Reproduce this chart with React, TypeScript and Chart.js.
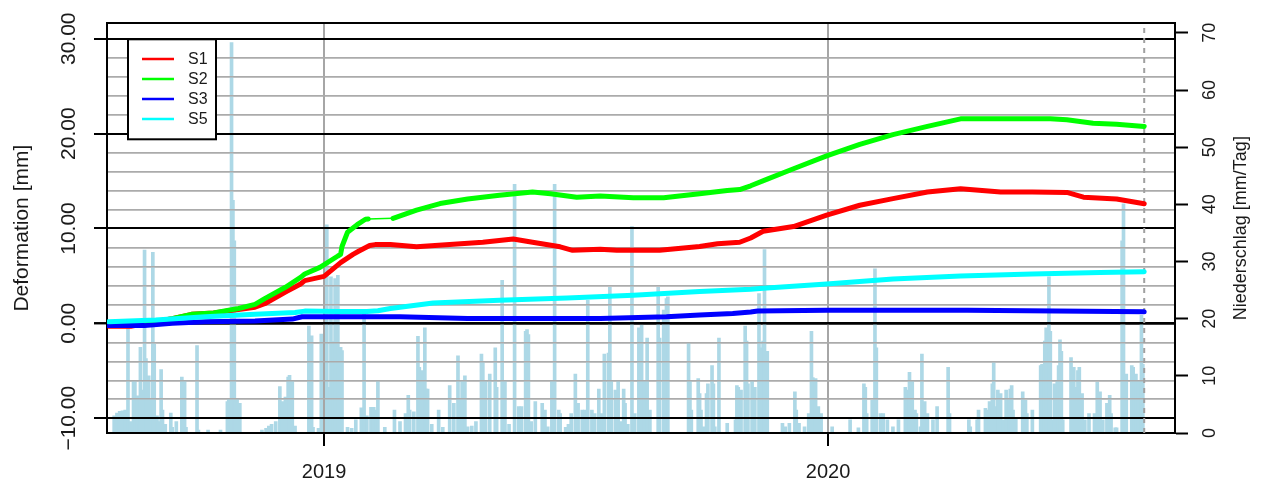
import { useEffect, useRef } from 'react';
import { Chart, registerables } from 'chart.js';

Chart.register(...registerables);

// ---- x axis: days relative to 2019-01-01 ----
const X_MIN = -157.2;
const X_MAX = 616.3;
const YEAR_TICK_DAYS = [0, 365];
const YEAR_TICK_LABELS = ['2019', '2020'];
const END_DAY = 594;

// ---- left axis: deformation [mm] ----
const DEF_MIN = -11.56;
const DEF_MAX = 31.63;
const DEF_GRID_TICKS = [-10, -8, -6, -4, -2, 0, 2, 4, 6, 8, 10, 12, 14, 16, 18, 20, 22, 24, 26, 28, 30];
const DEF_MAJOR_TICKS = [-10, 0, 10, 20, 30];
const DEF_MAJOR_LABELS = ['\u221210.00', '0.00', '10.00', '20.00', '30.00'];

// ---- right axis: precipitation [mm/Tag] ----
const RAIN_MIN = 0;
const RAIN_MAX = 71.67;
const RAIN_TICKS = [0, 10, 20, 30, 40, 50, 60, 70];

// ---- series ----
const S1_DAYS = [-156, -140, -122, -110, -96, -80, -62, -50, -43, -28, -17, -14, 0, 12, 21, 25, 33, 37, 48, 67, 91, 115, 137, 151, 171, 180, 200, 212, 243, 272, 285, 301, 309, 318, 340, 364, 388, 412, 437, 461, 490, 513, 538, 550, 574, 594];
const S1_VALUES = [-0.3, -0.3, 0.2, 0.5, 0.95, 1.1, 1.45, 1.7, 2.07, 3.3, 4.15, 4.5, 4.95, 6.4, 7.27, 7.6, 8.2, 8.3, 8.3, 8.07, 8.3, 8.55, 8.9, 8.55, 8.07, 7.7, 7.8, 7.7, 7.7, 8.1, 8.4, 8.55, 9.0, 9.7, 10.2, 11.4, 12.45, 13.15, 13.85, 14.2, 13.85, 13.85, 13.8, 13.3, 13.1, 12.6];

const S2_DAYS = [-156, -140, -122, -110, -96, -80, -62, -50, -43, -28, -17, -14, -3, 10, 12, 13, 17, 24, 30, 32, 50, 67, 84, 104, 127, 151, 164, 183, 200, 224, 246, 272, 292, 301, 309, 321, 340, 364, 388, 412, 437, 461, 490, 526, 538, 557, 574, 594];
const S2_VALUES = [-0.2, -0.2, 0.2, 0.5, 0.95, 1.1, 1.56, 2.0, 2.6, 3.8, 4.85, 5.2, 5.9, 7.1, 7.27, 8.1, 9.6, 10.4, 10.97, 11.0, 11.07, 11.94, 12.63, 13.1, 13.5, 13.85, 13.67, 13.3, 13.43, 13.25, 13.25, 13.67, 14.0, 14.1, 14.5, 15.2, 16.3, 17.65, 18.86, 19.9, 20.76, 21.56, 21.56, 21.56, 21.46, 21.1, 21.0, 20.76];
const S2_GAP_FROM = 32;
const S2_GAP_TO = 50;

const S3_DAYS = [-156, -130, -110, -86, -50, -23, -16, 10, 39, 55, 104, 151, 200, 248, 272, 296, 309, 314, 364, 466, 594];
const S3_VALUES = [-0.24, -0.24, 0, 0.18, 0.25, 0.45, 0.7, 0.7, 0.7, 0.7, 0.52, 0.52, 0.52, 0.7, 0.87, 1.04, 1.2, 1.29, 1.39, 1.39, 1.21];

const S5_DAYS = [-156, -122, -86, -50, -21, -14, 10, 31, 39, 48, 79, 127, 176, 224, 272, 309, 318, 364, 412, 461, 513, 562, 594];
const S5_VALUES = [0.18, 0.35, 0.7, 0.97, 1.14, 1.29, 1.25, 1.25, 1.32, 1.56, 2.15, 2.43, 2.67, 2.95, 3.36, 3.6, 3.7, 4.15, 4.67, 5.0, 5.2, 5.37, 5.44];

// ---- daily precipitation (nonzero days) ----
const RAIN_DAYS = [
  -152, -150, -148, -146, -144, -142, -140, -138, -137, -135, -134, -133, -132, -130, -129, -127, -126, -124, -123, -121, -120, -118, -117, -115, -111, -110, -107, -103, -102, -101, -100, -92, -91, -84, -75, -70, -69, -68, -67, -66, -65, -64, -63, -62, -61, -45, -42, -40, -38, -35, -32, -30, -28, -26, -25, -23, -21, -11, -9, -8, -4, -2, 0, 2, 3, 5, 7, 8, 10, 12, 13, 17, 20, 23, 27, 29, 31, 34, 36, 38,
  39, 44, 51, 55, 59, 61, 62, 65, 68, 69, 71, 73, 74, 75, 78, 83, 86, 91, 94, 97, 98, 100, 102, 104, 107, 110, 114, 115, 117, 120, 124, 125, 129, 131, 134, 138, 141, 143, 146, 147, 148, 150, 153, 158, 160, 162, 165, 167, 170, 171, 175, 177, 179, 182, 184, 187, 189, 191, 194, 196, 199, 201, 203, 206, 207, 208, 211, 213, 215, 217, 218, 220, 223, 225, 228, 230, 232,
  234, 236, 242, 243, 246, 248, 249, 264, 265, 266, 271, 272, 273, 275, 277, 278, 281, 282, 283, 286, 292, 298, 299, 300, 302, 305, 306, 307, 310, 312, 315, 316, 317, 318, 319, 321, 332, 334, 337, 341, 342, 344, 348, 351, 353, 354, 356, 358, 360, 368, 381, 387, 391, 392, 393, 397, 399, 400, 403, 405, 408, 412, 416, 421, 422, 424, 426, 428,
  429, 432, 433, 435, 437, 441, 444, 452, 453, 467, 468, 473, 474, 479, 480, 482, 484, 485, 486, 488, 490, 492, 494, 496, 497, 498, 499, 501, 506, 508, 509, 513, 519, 520, 522, 523, 525, 526, 527, 529, 531, 532, 533, 534, 535, 541, 543, 544, 546, 547, 549, 551, 554, 558, 560, 562, 564, 567, 568, 569, 570, 573, 574, 578, 579, 581, 585, 586, 587, 588, 590, 592, 593
];
const RAIN_MM = [
  3.0, 3.5, 3.8, 3.9, 4.0, 18.7, 2.0, 9.2, 9.0, 6.5, 1.5, 15.0, 7.5, 32.0, 13.0, 10.0, 6.0, 31.6, 15.5, 3.0, 2.0, 11.1, 4.0, 1.5, 3.5, 1.0, 2.0, 9.8, 4.0, 9.2, 1.0, 15.3, 0.5, 0.5, 0.5, 5.5, 6.0, 5.4, 68.3, 40.7, 33.6, 5.4, 6.0, 5.0, 5.2, 0.5, 0.8, 1.2, 1.5, 2.0, 8.1, 5.5, 6.3, 9.8, 10.1, 9.2, 1.2, 18.7, 17.0, 1.0, 0.8, 17.3, 16.0, 36.4, 8.0, 27.3, 16.0, 27.0, 27.6, 15.0, 14.4, 1.0, 0.8, 2.3, 4.4, 21.5, 3.0, 4.5, 4.5, 4.0,
  9.2, 1.0, 4.0, 2.0, 3.4, 6.6, 4.0, 3.7, 16.9, 11.5, 10.9, 18.4, 7.7, 7.7, 1.5, 4.0, 1.0, 8.3, 5.2, 13.5, 5.7, 9.2, 10.0, 1.1, 1.2, 2.0, 13.8, 12.3, 9.2, 10.3, 14.9, 8.0, 26.7, 9.2, 1.5, 43.5, 4.6, 4.6, 17.8, 18.1, 17.2, 2.0, 5.5, 5.2, 4.0, 1.1, 9.2, 43.5, 4.0, 3.4, 1.0, 1.5, 3.4, 10.3, 5.2, 4.0, 4.0, 23.2, 4.0, 3.4, 7.7, 3.4, 13.8, 14.0, 25.5, 9.2, 7.5, 9.2, 2.0, 7.7, 5.2, 1.5, 36.1, 3.4, 18.4, 18.9, 9.2,
  16.6, 4.0, 25.5, 16.6, 21.5, 23.5, 23.8, 15.7, 9.2, 4.0, 9.5, 6.9, 4.0, 1.1, 6.9, 8.6, 11.8, 8.6, 1.1, 16.6, 1.7, 2.3, 8.3, 8.0, 7.5, 18.7, 16.1, 8.6, 9.2, 8.0, 24.4, 14.9, 14.3, 16.1, 32.1, 14.3, 1.7, 1.1, 1.7, 7.2, 4.0, 1.7, 1.1, 3.4, 17.8, 9.7, 9.5, 4.6, 3.4, 1.1, 2.3, 0.9, 8.6, 8.0, 3.4, 5.7, 28.7, 14.9, 3.4, 3.4, 2.3, 1.1, 2.3, 8.0, 7.5, 10.6, 9.2, 4.0,
  3.4, 1.1, 13.8, 5.5, 3.4, 2.3, 4.6, 11.5, 3.4, 2.3, 1.1, 2.3, 4.0, 4.3, 4.0, 5.5, 8.6, 12.3, 4.6, 7.5, 6.9, 2.3, 7.5, 5.7, 7.7, 8.3, 4.0, 2.6, 7.2, 5.7, 3.4, 4.0, 11.8, 12.0, 16.1, 18.4, 27.3, 17.8, 2.3, 8.6, 9.2, 11.8, 16.3, 14.3, 2.3, 13.2, 11.5, 8.0, 10.9, 11.5, 6.9, 2.3, 3.4, 3.4, 8.9, 7.2, 2.3, 5.2, 4.6, 6.6, 3.4, 0.9, 0.9, 33.6, 40.1, 10.3, 11.8, 11.5, 9.7, 10.3, 9.2, 20.6, 12.0
];

const FONT = "'Liberation Sans', Arial, sans-serif";
const TEXT = '#1a1a1a';

const pts = (days: number[], vals: number[]) => days.map((d, i) => ({ x: d, y: vals[i] }));

export default function App() {
  const ref = useRef<HTMLCanvasElement>(null);

  useEffect(() => {
    if (!ref.current) return;
    Chart.defaults.font.family = FONT;
    Chart.defaults.color = TEXT;

    const overlayPlugin = {
      id: 'gridOverBars',
      afterDatasetDraw(chart: any, args: any) {
        const ds = chart.data.datasets[args.index];
        if (ds.type !== 'bar') return;
        const ca = chart.chartArea;
        ['x', 'y'].forEach((id) => chart.scales[id].drawGrid(ca));
        ['x', 'x2', 'y', 'y2'].forEach((id) => chart.scales[id].drawBorder());
      },
      afterDraw(chart: any) {
        const ctx = chart.ctx;
        const ca = chart.chartArea;
        ctx.save();
        // legend box
        const bx = ca.left + 21;
        const by = ca.top + 16;
        const bw = 88;
        const bh = 100;
        ctx.fillStyle = '#fff';
        ctx.fillRect(bx, by, bw, bh);
        ctx.strokeStyle = '#000';
        ctx.lineWidth = 2;
        ctx.strokeRect(bx, by, bw, bh);
        const items = chart.data.datasets.filter((d: any) => d.inLegend);
        items.forEach((d: any, i: number) => {
          const y = by + 19.7 + i * 20;
          ctx.strokeStyle = d.borderColor;
          ctx.lineWidth = 2.5;
          ctx.beginPath();
          ctx.moveTo(bx + 14, y);
          ctx.lineTo(bx + 46, y);
          ctx.stroke();
          ctx.fillStyle = TEXT;
          ctx.font = `16px ${FONT}`;
          ctx.textAlign = 'left';
          ctx.textBaseline = 'middle';
          ctx.fillText(d.label, bx + 60, y + 0.5);
        });
        // right axis title (reads bottom to top)
        const ys = chart.scales.y2;
        ctx.translate(ys.right - 21, (ca.top + ca.bottom) / 2);
        ctx.rotate(-Math.PI / 2);
        ctx.fillStyle = TEXT;
        ctx.font = `18px ${FONT}`;
        ctx.textAlign = 'center';
        ctx.textBaseline = 'middle';
        ctx.fillText('Niederschlag [mm/Tag]', 0, 0);
        ctx.restore();
      },
    };

    const isMajor = (v: number) => DEF_MAJOR_TICKS.indexOf(v) >= 0;

    const chart = new Chart(ref.current, {
      type: 'line',
      data: {
        datasets: [
          {
            type: 'bar',
            label: 'Niederschlag',
            data: pts(RAIN_DAYS, RAIN_MM),
            xAxisID: 'x',
            yAxisID: 'y2',
            backgroundColor: '#ADD8E6',
            borderWidth: 0,
            barThickness: 3,
            grouped: false,
            order: 10,
          } as any,
          {
            type: 'line',
            label: 'end',
            data: [{ x: END_DAY, y: DEF_MIN }, { x: END_DAY, y: DEF_MAX }],
            xAxisID: 'x',
            yAxisID: 'y',
            borderColor: '#a0a0a0',
            borderWidth: 2,
            borderDash: [5, 5],
            pointRadius: 0,
            order: 9,
          },
          {
            type: 'line', label: 'S1', inLegend: true, data: pts(S1_DAYS, S1_VALUES),
            xAxisID: 'x', yAxisID: 'y', borderColor: '#ff0000', borderWidth: 5,
            pointRadius: 0, tension: 0, borderCapStyle: 'round', borderJoinStyle: 'round', order: 4,
          } as any,
          {
            type: 'line', label: 'S2', inLegend: true, data: pts(S2_DAYS, S2_VALUES),
            xAxisID: 'x', yAxisID: 'y', borderColor: '#00ff00', borderWidth: 5,
            pointRadius: 0, tension: 0, borderCapStyle: 'round', borderJoinStyle: 'round', order: 3,
            segment: {
              borderWidth: (c: any) => (c.p0.parsed.x >= S2_GAP_FROM && c.p1.parsed.x <= S2_GAP_TO ? 1.5 : undefined),
            },
          } as any,
          {
            type: 'line', label: 'S3', inLegend: true, data: pts(S3_DAYS, S3_VALUES),
            xAxisID: 'x', yAxisID: 'y', borderColor: '#0000ff', borderWidth: 5,
            pointRadius: 0, tension: 0, borderCapStyle: 'round', borderJoinStyle: 'round', order: 2,
          } as any,
          {
            type: 'line', label: 'S5', inLegend: true, data: pts(S5_DAYS, S5_VALUES),
            xAxisID: 'x', yAxisID: 'y', borderColor: '#00ffff', borderWidth: 5,
            pointRadius: 0, tension: 0, borderCapStyle: 'round', borderJoinStyle: 'round', order: 1,
          } as any,
        ],
      },
      options: {
        responsive: false,
        animation: false,
        events: [],
        layout: { padding: 0 },
        plugins: { legend: { display: false }, tooltip: { enabled: false } },
        scales: {
          x: {
            type: 'linear',
            position: 'bottom',
            min: X_MIN,
            max: X_MAX,
            offset: false,
            afterBuildTicks: (s: any) => { s.ticks = YEAR_TICK_DAYS.map((v) => ({ value: v })); },
            afterFit: (s: any) => { s.height = 51; },
            ticks: {
              autoSkip: false,
              minRotation: 0,
              maxRotation: 0,
              padding: 14.5,
              font: { size: 20 },
              color: TEXT,
              callback: (v: any) => {
                const i = YEAR_TICK_DAYS.indexOf(Number(v));
                return i >= 0 ? YEAR_TICK_LABELS[i] : '';
              },
            },
            grid: { offset: false, color: '#a6a6a6', lineWidth: 2, tickColor: '#000', tickWidth: 2, tickLength: 13 },
            border: { display: true, color: '#000', width: 2 },
          },
          x2: {
            type: 'linear',
            position: 'top',
            min: X_MIN,
            max: X_MAX,
            offset: false,
            afterFit: (s: any) => { s.height = 17; },
            ticks: { display: false },
            grid: { display: false, drawTicks: false, offset: false },
            border: { display: true, color: '#000', width: 2 },
          },
          y: {
            type: 'linear',
            position: 'left',
            min: DEF_MIN,
            max: DEF_MAX,
            afterBuildTicks: (s: any) => { s.ticks = DEF_GRID_TICKS.map((v) => ({ value: v })); },
            afterFit: (s: any) => { s.width = 107; },
            ticks: {
              autoSkip: false,
              minRotation: 90,
              maxRotation: 90,
              crossAlign: 'center',
              align: 'center',
              padding: -7.5,
              font: { size: 21 },
              color: TEXT,
              callback: (v: any) => {
                const i = DEF_MAJOR_TICKS.indexOf(Number(v));
                return i >= 0 ? DEF_MAJOR_LABELS[i] : '';
              },
            },
            grid: {
              color: (c: any) => (isMajor(c.tick.value) ? '#000' : '#ababab'),
              lineWidth: (c: any) => (c.tick.value === 0 ? 2.5 : isMajor(c.tick.value) ? 2 : 1.5),
              tickColor: (c: any) => (isMajor(c.tick.value) ? '#000' : 'rgba(0,0,0,0)'),
              tickWidth: 2,
              tickLength: 13,
            },
            border: { display: true, color: '#000', width: 2 },
            title: { display: true, text: 'Deformation [mm]', font: { size: 21 }, color: TEXT, padding: { top: 10, bottom: 0 } },
          },
          y2: {
            type: 'linear',
            position: 'right',
            min: RAIN_MIN,
            max: RAIN_MAX,
            beginAtZero: true,
            afterBuildTicks: (s: any) => { s.ticks = RAIN_TICKS.map((v) => ({ value: v })); },
            afterFit: (s: any) => { s.width = 87; },
            ticks: {
              autoSkip: false,
              minRotation: 90,
              maxRotation: 90,
              crossAlign: 'center',
              align: 'center',
              padding: 12.5,
              font: { size: 18 },
              color: TEXT,
              callback: (v: any) => String(v),
            },
            grid: { drawOnChartArea: false, color: '#000', tickColor: '#000', tickWidth: 2, tickLength: 13 },
            border: { display: true, color: '#000', width: 2 },
          },
        },
      } as any,
      plugins: [overlayPlugin],
    });

    return () => chart.destroy();
  }, []);

  return (
    <div style={{ position: 'fixed', left: 0, top: 0, width: 1262, height: 484, background: '#fff' }}>
      <canvas ref={ref} width={1262} height={484} style={{ display: 'block', width: 1262, height: 484 }} />
    </div>
  );
}
